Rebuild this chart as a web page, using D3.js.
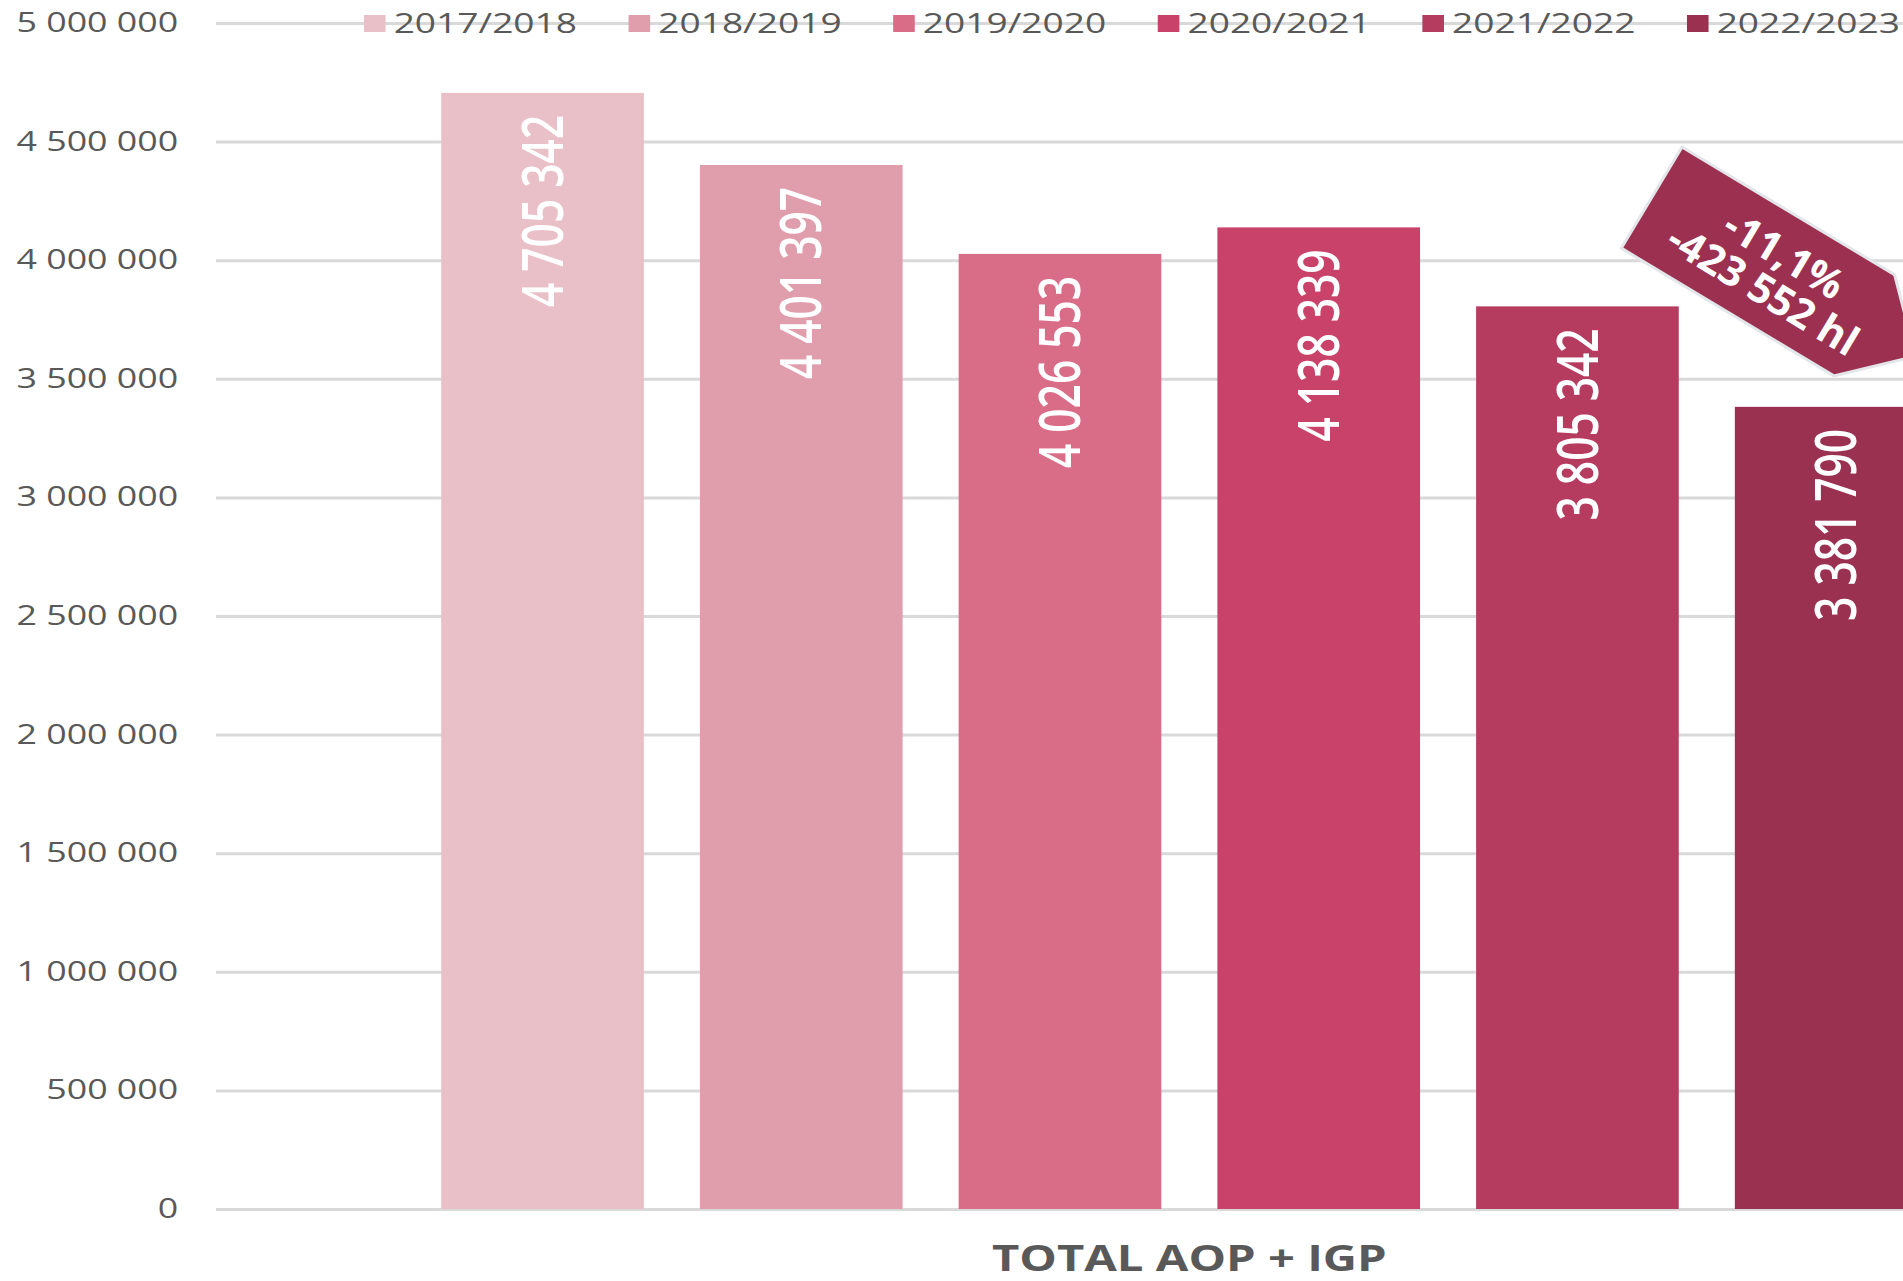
<!DOCTYPE html>
<html>
<head>
<meta charset="utf-8">
<script src="https://cdn.jsdelivr.net/npm/d3@7"></script>
<style>
body { margin: 0; background: #fff; }
svg { display: block; }
text { font-family: "Open Sans", sans-serif; }
</style>
</head>
<body>
<div id="chart"></div>
<script>
// Data
const category = ["TOTAL AOP + IGP"]
const seasons = ["2017/2018", "2018/2019", "2019/2020", "2020/2021", "2021/2022", "2022/2023"]
const volumes = [4705342, 4401397, 4026553, 4138339, 3805342, 3381790]
const colors = ["#e9c0c8", "#e09dac", "#d96d88", "#c9426a", "#b53b5f", "#9a3151"]
const yTicks = [0, 500000, 1000000, 1500000, 2000000, 2500000, 3000000, 3500000, 4000000, 4500000, 5000000]
const changeLabels = ["-11,1%", "-423 552 hl"]

// Dimensions (the chart image is stretched horizontally)
const W = 1903, H = 1281, sx = 1.35
const margin = {top: 23, left: 160, bottom: 1209}
const plotRight = 1602

const fr = d3.formatLocale({decimal: ",", thousands: " ", grouping: [3], currency: ["", ""]})
const fmt = fr.format(",d")

const svg = d3.select('#chart')
    .append('svg')
    .attr('width', W)
    .attr('height', H)

const g = svg.append('g')
    .attr('transform', 'scale(' + sx + ',1)')

// Scales
let x0 = d3.scaleBand().domain(category).range([margin.left, plotRight]).paddingInner(0).paddingOuter(0.1505)
let x1 = d3.scaleBand().domain(seasons).range([0, x0.bandwidth()]).paddingInner(0.2167).paddingOuter(0)
let y = d3.scaleLinear().domain([0, 5000000]).range([margin.bottom, margin.top])

// Y axis + gridlines
let yAxis = g.append('g')
    .attr('class', 'yAxis')
    .attr('transform', 'translate(' + margin.left + ',0)')
    .call(d3.axisLeft(y).tickValues(yTicks).tickFormat(fmt)
        .tickSize(-(plotRight - margin.left)).tickPadding(28))
yAxis.select('.domain').remove()
yAxis.selectAll('.tick line').attr('stroke', '#d9d9d9').attr('stroke-width', 3)
yAxis.selectAll('.tick text')
    .attr('fill', '#595959')
    .style('font-size', '26.5px')
    .style('font-family', '"Open Sans", sans-serif')

// Legend
let legend = g.append('g').attr('class', 'legend')
    .selectAll('g')
    .data(seasons)
    .enter()
    .append('g')
    .attr('transform', (d, i) => 'translate(' + (269.6 + i * 196) + ',0)')
legend.append('rect')
    .attr('x', 0).attr('y', 15)
    .attr('width', 16).attr('height', 17)
    .attr('fill', (d, i) => colors[i])
legend.append('text')
    .attr('x', 22).attr('y', 33)
    .attr('fill', '#595959')
    .style('font-size', '27.5px')
    .text(d => d)

// Bars
let groups = g.append('g')
    .selectAll('g')
    .data(category)
    .enter()
    .append('g')
    .attr('transform', d => 'translate(' + x0(d) + ',0)')

let bars = groups.selectAll('.bar')
    .data(seasons.map((s, i) => ({season: s, value: volumes[i], color: colors[i]})))
    .enter()
    .append('rect')
    .attr('class', 'bar')
    .attr('x', d => x1(d.season))
    .attr('y', d => y(d.value))
    .attr('width', x1.bandwidth())
    .attr('height', d => y(0) - y(d.value))
    .attr('fill', d => d.color)

// Bar labels (rotated, inside end)
groups.selectAll('.lbl')
    .data(seasons.map((s, i) => ({season: s, value: volumes[i]})))
    .enter()
    .append('text')
    .attr('class', 'lbl')
    .attr('transform', d => 'translate(' + (x1(d.season) + x1.bandwidth() / 2) + ',' + (y(d.value) + 22) + ') rotate(-90)')
    .attr('text-anchor', 'end')
    .attr('dy', '0.35em')
    .attr('fill', '#fff')
    .style('font-size', '42.5px')
    .style('font-weight', 600)
    .text(d => fmt(d.value))

// X axis title
g.append('text')
    .attr('x', x0(category[0]) + x0.bandwidth() / 2)
    .attr('y', 1271)
    .attr('text-anchor', 'middle')
    .attr('fill', '#595959')
    .style('font-size', '35px')
    .style('font-weight', 700)
    .text(category[0])

// Change annotation (drawn unstretched)
let note = svg.append('g')
    .attr('transform', 'translate(1682,147) rotate(31)')
note.append('polygon')
    .attr('points', [[0, 0], [248, 0], [308, 59], [248, 118], [0, 118]].map(p => p.join(',')).join(' '))
    .attr('fill', '#9b3050')
    .attr('stroke', '#e3e7ea')
    .attr('stroke-width', 3)
note.selectAll('text')
    .data(changeLabels)
    .enter()
    .append('text')
    .attr('x', 143)
    .attr('y', (d, i) => 54 + i * 41)
    .attr('text-anchor', 'middle')
    .attr('fill', '#fff')
    .style('font-size', '41px')
    .style('font-weight', 700)
    .text(d => d)
</script>
</body>
</html>
